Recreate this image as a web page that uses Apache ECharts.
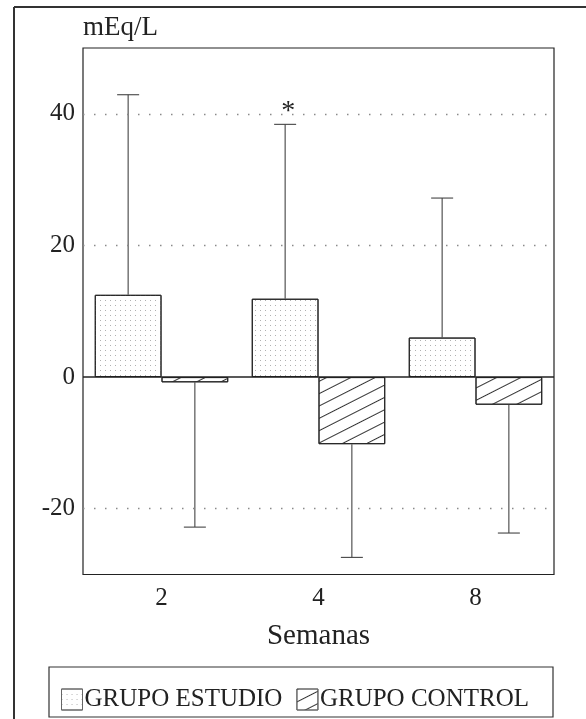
<!DOCTYPE html>
<html>
<head>
<meta charset="utf-8">
<script src="https://cdn.jsdelivr.net/npm/echarts@6/dist/echarts.min.js"></script>
<style>
  html, body { margin: 0; padding: 0; background: #fff; }
  #chart { width: 586px; height: 719px; }
</style>
</head>
<body>
<div id="chart"></div>
<script>
// ---- data ----
const categories = ['2', '4', '8'];
const studyName = 'GRUPO ESTUDIO';
const controlName = 'GRUPO CONTROL';
const studyMean = [12.5, 11.9, 6.0];
const studySD = [30.4, 26.5, 21.2];
const controlMean = [-0.8, -10.2, -4.2];
const controlSD = [22.0, 17.2, 19.5];
const significance = ['', '*', ''];
const yTickLabels = [-20, 0, 20, 40];
const dottedGridValues = [-20, 20, 40];
const zeroLineValue = 0;
const yUnit = 'mEq/L';
const xName = 'Semanas';

const FONT = "'Liberation Serif', 'DejaVu Serif', serif";
const INK = '#222';
const BAR_FRAC = 0.425;

function errorData(means, sds, dir) {
  return means.map((m, i) => [i, m, m + dir * sds[i], significance[i]]);
}

function makeErrorRender(side, withMark) {
  return function (params, api) {
    const idx = api.value(0);
    const mean = api.value(1);
    const end = api.value(2);
    const bw = api.size([1, 0])[0];
    const off = side * bw * BAR_FRAC / 2;
    const p0 = api.coord([idx, mean]);
    const p1 = api.coord([idx, end]);
    const x = p0[0] + off;
    const cap = 11;
    const style = { stroke: '#444', lineWidth: 1.1 };
    const children = [
      { type: 'line', shape: { x1: x, y1: p0[1], x2: x, y2: p1[1] }, style: style },
      { type: 'line', shape: { x1: x - cap, y1: p1[1], x2: x + cap, y2: p1[1] }, style: style }
    ];
    const mark = withMark ? significance[idx] : '';
    if (mark) {
      children.push({
        type: 'text',
        style: { text: mark, x: x + 3, y: p1[1] - 13, align: 'center', verticalAlign: 'middle',
                 font: '28px ' + FONT, fill: INK }
      });
    }
    return { type: 'group', children: children };
  };
}

const chart = echarts.init(document.getElementById('chart'), null, { renderer: 'canvas' });

const option = {
  backgroundColor: '#fff',
  animation: false,
  title: {
    text: yUnit,
    left: 83, top: 14, padding: 0,
    textStyle: { fontFamily: FONT, fontWeight: 'normal', fontSize: 27, color: INK }
  },
  graphic: [
    { type: 'line', shape: { x1: 14, y1: 7, x2: 586, y2: 7 }, style: { stroke: '#333', lineWidth: 2 } },
    { type: 'line', shape: { x1: 14, y1: 7, x2: 14, y2: 719 }, style: { stroke: '#333', lineWidth: 2 } },
    { type: 'rect', shape: { x: 49, y: 667, width: 504, height: 50 }, style: { fill: 'none', stroke: '#333', lineWidth: 1.2 } }
  ],
  legend: {
    data: [studyName, controlName],
    left: 61, top: 687,
    padding: 0,
    icon: 'rect',
    itemWidth: 21, itemHeight: 21,
    itemGap: 14,
    itemStyle: { borderColor: '#666', borderWidth: 1 },
    textStyle: { fontFamily: FONT, fontSize: 25, color: INK, padding: [2, 0, 0, -3] }
  },
  grid: {
    left: 83, right: 32, top: 48, bottom: 144.5,
    show: true, borderColor: '#222', borderWidth: 1.2,
    containLabel: false, outerBoundsMode: 'none'
  },
  xAxis: {
    type: 'category',
    data: categories,
    position: 'bottom',
    axisLine: { show: false, onZero: false },
    axisTick: { show: false },
    axisLabel: { fontFamily: FONT, fontSize: 25, color: INK, margin: 11 },
    name: xName,
    nameLocation: 'middle',
    nameGap: 47,
    nameTextStyle: { fontFamily: FONT, fontSize: 29, color: INK }
  },
  yAxis: {
    type: 'value',
    min: -30, max: 50, interval: 10,
    axisLine: { show: false },
    axisTick: { show: false },
    splitLine: { show: false },
    axisLabel: {
      fontFamily: FONT, fontSize: 25, color: INK, margin: 8,
      formatter: v => (yTickLabels.indexOf(v) >= 0 ? String(v) : '')
    }
  },
  series: [
    {
      name: studyName,
      type: 'bar',
      data: studyMean,
      barWidth: (BAR_FRAC * 100) + '%',
      barGap: '0%',
      itemStyle: {
        color: '#fff', borderColor: '#222', borderWidth: 1,
        decal: { symbol: 'rect', symbolSize: 1, dashArrayX: [1, 4], dashArrayY: [1, 4], color: '#b0b0b0', rotation: 0 }
      },
      markLine: {
        silent: true, symbol: 'none', label: { show: false },
        data: dottedGridValues.map(v => ({ yAxis: v, lineStyle: { type: [1.5, 9.5], color: '#8a8a8a', width: 1.3 } }))
          .concat([{ yAxis: zeroLineValue, lineStyle: { type: 'solid', color: '#222', width: 1.5 } }])
      },
      z: 2
    },
    {
      name: controlName,
      type: 'bar',
      data: controlMean,
      barWidth: (BAR_FRAC * 100) + '%',
      barGap: '0%',
      itemStyle: {
        color: '#fff', borderColor: '#222', borderWidth: 1,
        decal: { symbol: 'rect', symbolSize: 1, dashArrayX: [1, 0], dashArrayY: [1, 10], color: '#333', rotation: -0.47 }
      },
      z: 2
    },
    {
      name: 'sd-study',
      type: 'custom',
      renderItem: makeErrorRender(-1, true),
      data: errorData(studyMean, studySD, 1),
      encode: { x: 0, y: [1, 2] },
      z: 3
    },
    {
      name: 'sd-control',
      type: 'custom',
      renderItem: makeErrorRender(1, false),
      data: errorData(controlMean, controlSD, -1),
      encode: { x: 0, y: [1, 2] },
      z: 3
    }
  ]
};

chart.setOption(option);
</script>
</body>
</html>
